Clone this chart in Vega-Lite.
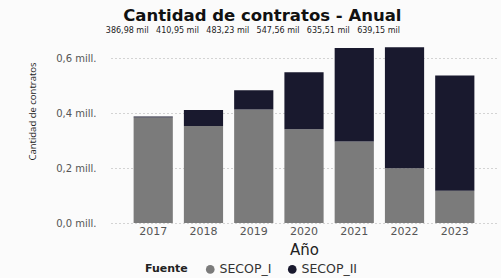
{
  "$schema": "https://vega.github.io/schema/vega-lite/v6.json",
  "width": 386,
  "height": 198,
  "autosize": {"type": "pad"},
  "padding": {"left": 27, "right": 4, "top": 7, "bottom": 2},
  "background": "#fbfbfb",
  "title": {
    "text": "Cantidad de contratos - Anual",
    "font": "DejaVu Sans",
    "fontSize": 16.5,
    "fontWeight": "bold",
    "color": "#111111",
    "anchor": "middle",
    "frame": "bounds",
    "baseline": "alphabetic",
    "offset": -12
  },
  "config": {
    "view": {"stroke": null},
    "font": "DejaVu Sans"
  },
  "layer": [
    {
      "data": {
        "values": [
          {"year": "2017", "Fuente": "SECOP_I", "contratos": 0.384},
          {"year": "2017", "Fuente": "SECOP_II", "contratos": 0.003},
          {"year": "2018", "Fuente": "SECOP_I", "contratos": 0.353},
          {"year": "2018", "Fuente": "SECOP_II", "contratos": 0.058},
          {"year": "2019", "Fuente": "SECOP_I", "contratos": 0.413},
          {"year": "2019", "Fuente": "SECOP_II", "contratos": 0.070},
          {"year": "2020", "Fuente": "SECOP_I", "contratos": 0.341},
          {"year": "2020", "Fuente": "SECOP_II", "contratos": 0.207},
          {"year": "2021", "Fuente": "SECOP_I", "contratos": 0.296},
          {"year": "2021", "Fuente": "SECOP_II", "contratos": 0.340},
          {"year": "2022", "Fuente": "SECOP_I", "contratos": 0.199},
          {"year": "2022", "Fuente": "SECOP_II", "contratos": 0.440},
          {"year": "2023", "Fuente": "SECOP_I", "contratos": 0.117},
          {"year": "2023", "Fuente": "SECOP_II", "contratos": 0.419}
        ]
      },
      "mark": {"type": "bar"},
      "encoding": {
        "x": {
          "field": "year",
          "type": "nominal",
          "scale": {"paddingInner": 0.22, "paddingOuter": 0.45},
          "axis": {
            "title": "Año",
            "labelAngle": 0,
            "ticks": false,
            "domain": false,
            "labelColor": "#555555",
            "labelFont": "DejaVu Sans",
            "labelFontSize": 11,
            "labelPadding": 2,
            "titleFont": "DejaVu Sans",
            "titleFontSize": 15,
            "titleFontWeight": "normal",
            "titleColor": "#222222",
            "titlePadding": 6
          }
        },
        "y": {
          "field": "contratos",
          "type": "quantitative",
          "stack": "zero",
          "scale": {"domain": [0, 0.72], "nice": false},
          "axis": {
            "title": "Cantidad de contratos",
            "values": [0, 0.2, 0.4, 0.6],
            "labelExpr": "replace(format(datum.value, '.1f'), '.', ',') + ' mill.'",
            "ticks": false,
            "domain": false,
            "grid": true,
            "gridDash": [1, 3],
            "gridColor": "#aaaaaa",
            "labelColor": "#555555",
            "labelFont": "DejaVu Sans",
            "labelFontSize": 10,
            "labelPadding": 15,
            "titleFont": "Open Sans",
            "titleFontSize": 9.5,
            "titleFontWeight": "normal",
            "titleColor": "#222222",
            "titlePadding": 18,
            "titleY": 86
          }
        },
        "color": {
          "field": "Fuente",
          "type": "nominal",
          "scale": {"domain": ["SECOP_I", "SECOP_II"], "range": ["#7b7b7b", "#19192e"]},
          "legend": {
            "orient": "none",
            "legendX": 34,
            "legendY": 238,
            "direction": "horizontal",
            "title": "Fuente",
            "titleOrient": "left",
            "titleFont": "DejaVu Sans",
            "titleFontSize": 11,
            "titleFontWeight": "bold",
            "titleColor": "#222222",
            "titlePadding": 16,
            "labelFont": "DejaVu Sans",
            "labelFontSize": 12.5,
            "labelColor": "#333333",
            "labelOffset": 3,
            "symbolType": "circle",
            "symbolSize": 75,
            "columnPadding": 14
          }
        },
        "order": {"field": "Fuente", "sort": "ascending"}
      }
    },
    {
      "data": {
        "values": [
          {"year": "2017", "label": "386,98 mil"},
          {"year": "2018", "label": "410,95 mil"},
          {"year": "2019", "label": "483,23 mil"},
          {"year": "2020", "label": "547,56 mil"},
          {"year": "2021", "label": "635,51 mil"},
          {"year": "2022", "label": "639,15 mil"}
        ]
      },
      "mark": {"type": "text", "font": "DejaVu Sans", "fontSize": 8, "color": "#222222", "baseline": "middle", "dx": -26},
      "encoding": {
        "x": {"field": "year", "type": "nominal"},
        "y": {"datum": 0.7},
        "text": {"field": "label"}
      }
    }
  ]
}
